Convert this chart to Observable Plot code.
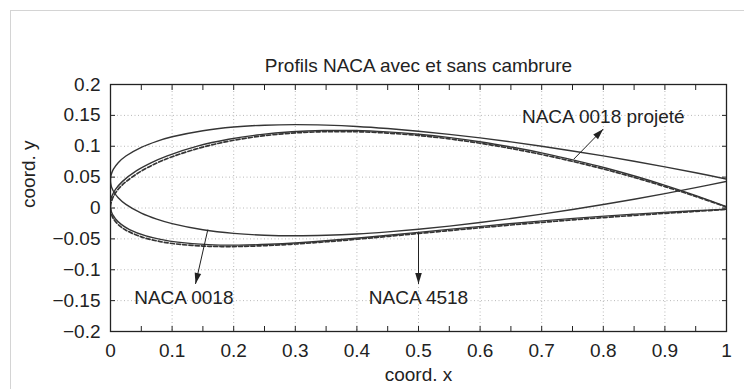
<!DOCTYPE html>
<html><head><meta charset="utf-8">
<script src="https://cdn.jsdelivr.net/npm/d3@7"></script>
<script src="https://cdn.jsdelivr.net/npm/@observablehq/plot@0.6"></script>
<style>
body{margin:0;background:#fff;}
#wrap{position:relative;width:744px;height:389px;overflow:hidden;background:#fff;}
#border{position:absolute;left:10px;top:10px;right:-2px;bottom:-2px;border-left:1px solid #d4d4d4;border-top:1px solid #d4d4d4;pointer-events:none;}
#wrap svg{position:absolute;left:0;top:0;}
</style></head><body>
<div id="wrap"><div id="border"></div></div>
<script>
// ---- text ----
const title = "Profils NACA avec et sans cambrure";
const xLabel = "coord. x";
const yLabel = "coord. y";

// ---- ticks ----
const xTicks = [0, 0.1, 0.2, 0.3, 0.4, 0.5, 0.6, 0.7, 0.8, 0.9, 1];
const xTickLabels = ["0", "0.1", "0.2", "0.3", "0.4", "0.5", "0.6", "0.7", "0.8", "0.9", "1"];
const xMinorTicks = [0.05, 0.1, 0.15, 0.2, 0.25, 0.3, 0.35, 0.4, 0.45, 0.5, 0.55, 0.6, 0.65, 0.7, 0.75, 0.8, 0.85, 0.9, 0.95];
const yTicks = [-0.2, -0.15, -0.1, -0.05, 0, 0.05, 0.1, 0.15, 0.2];
const yTickLabels = ["\u22120.2", "\u22120.15", "\u22120.1", "\u22120.05", "0", "0.05", "0.1", "0.15", "0.2"];
const yInnerTicks = [-0.15, -0.1, -0.05, 0, 0.05, 0.1, 0.15];
const xGrid = [0.1, 0.2, 0.3, 0.4, 0.5, 0.6, 0.7, 0.8, 0.9];
const yGrid = [-0.15, -0.1, -0.05, 0, 0.05, 0.1, 0.15];

// ---- NACA 0018 (symmetric, drawn around y = 0.045) ----
const naca0018X = [0, 0.0005, 0.001, 0.0025, 0.005, 0.0125, 0.025, 0.05, 0.075, 0.1, 0.15, 0.2, 0.25, 0.3, 0.35, 0.4, 0.45, 0.5, 0.55, 0.6, 0.65, 0.7, 0.75, 0.8, 0.85, 0.9, 0.95, 1];
const naca0018Upper = [0.045, 0.051, 0.0533, 0.0581, 0.0633, 0.0734, 0.0842, 0.0983, 0.108, 0.1153, 0.1252, 0.1311, 0.1341, 0.135, 0.1342, 0.1321, 0.1287, 0.1244, 0.1193, 0.1135, 0.107, 0.1, 0.0924, 0.0844, 0.0758, 0.0667, 0.0571, 0.0469];
const naca0018Lower = [0.045, 0.039, 0.0367, 0.0319, 0.0267, 0.0166, 0.0058, -0.0083, -0.018, -0.0253, -0.0352, -0.0411, -0.0441, -0.045, -0.0442, -0.0421, -0.0387, -0.0344, -0.0293, -0.0235, -0.017, -0.01, -0.0024, 0.0056, 0.0142, 0.0233, 0.0329, 0.0431];

// ---- NACA 4518 (solid) ----
const naca4518UpperX = [0, -0.0005, -0.0003, 0.0004, 0.0021, 0.0081, 0.0191, 0.0424, 0.0665, 0.0911, 0.1411, 0.1918, 0.2429, 0.2943, 0.3457, 0.3972, 0.4487, 0.5, 0.5512, 0.6022, 0.653, 0.7035, 0.7538, 0.8038, 0.8534, 0.9028, 0.9517, 1.0003];
const naca4518UpperY = [0, 0.006, 0.0084, 0.0133, 0.0189, 0.03, 0.0427, 0.0604, 0.0735, 0.0841, 0.1001, 0.1113, 0.1188, 0.1234, 0.1255, 0.1255, 0.1233, 0.1194, 0.1139, 0.1069, 0.0983, 0.0885, 0.0772, 0.0648, 0.051, 0.0359, 0.0196, 0.0019];
const naca4518LowerX = [0, 0.0015, 0.0023, 0.0046, 0.0079, 0.0169, 0.0309, 0.0576, 0.0835, 0.1089, 0.1589, 0.2082, 0.2571, 0.3058, 0.3543, 0.4028, 0.4513, 0.5, 0.5488, 0.5978, 0.647, 0.6965, 0.7462, 0.7962, 0.8466, 0.8972, 0.9483, 0.9997];
const naca4518LowerY = [0, -0.0058, -0.008, -0.0125, -0.0173, -0.0261, -0.0349, -0.0452, -0.0513, -0.0553, -0.0593, -0.0601, -0.0588, -0.0562, -0.0527, -0.0487, -0.0441, -0.0394, -0.0347, -0.0301, -0.0255, -0.0213, -0.0172, -0.0136, -0.0102, -0.0071, -0.0044, -0.0019];

// ---- NACA 0018 projeté (dashed) ----
const projX = [0, 0.0005, 0.001, 0.0025, 0.005, 0.0125, 0.025, 0.05, 0.075, 0.1, 0.15, 0.2, 0.25, 0.3, 0.35, 0.4, 0.45, 0.5, 0.55, 0.6, 0.65, 0.7, 0.75, 0.8, 0.85, 0.9, 0.95, 1];
const projUpper = [0, 0.0061, 0.0085, 0.0135, 0.0191, 0.0304, 0.0425, 0.0598, 0.0728, 0.083, 0.0986, 0.1097, 0.1171, 0.1216, 0.1236, 0.1235, 0.1213, 0.1174, 0.1119, 0.1049, 0.0964, 0.0866, 0.0755, 0.0632, 0.0496, 0.0347, 0.0188, 0.0015];
const projLower = [0, -0.0059, -0.0081, -0.0127, -0.0177, -0.0268, -0.0359, -0.0467, -0.0532, -0.0575, -0.0616, -0.0624, -0.061, -0.0583, -0.0547, -0.0506, -0.046, -0.0413, -0.0366, -0.032, -0.0275, -0.0233, -0.0192, -0.0155, -0.012, -0.0087, -0.0055, -0.0022];

// ---- annotations ----
const annLabels = ["NACA 0018", "NACA 4518", "NACA 0018 projet\u00e9"];
const annLabelX = [0.119, 0.5, 0.8];
const annLabelY = [-0.146, -0.146, 0.147];
const annFromX = [0.158, 0.5, 0.752];
const annFromY = [-0.035, -0.04, 0.079];
const annToX = [0.138, 0.5, 0.8];
const annToY = [-0.123, -0.123, 0.128];

// ---- build tables ----
function closed(xu, yu, xl, yl) {
  const pts = [];
  for (let i = xu.length - 1; i >= 0; i--) pts.push({x: xu[i], y: yu[i]});
  for (let i = 1; i < xl.length; i++) pts.push({x: xl[i], y: yl[i]});
  return pts;
}
const p0018 = closed(naca0018X, naca0018Upper, naca0018X, naca0018Lower);
const p4518 = closed(naca4518UpperX, naca4518UpperY, naca4518LowerX, naca4518LowerY);
const pProj = closed(projX, projUpper, projX, projLower);
const ann = annLabels.map((t, i) => ({t, lx: annLabelX[i], ly: annLabelY[i], fx: annFromX[i], fy: annFromY[i], tx: annToX[i], ty: annToY[i]}));

const ink = "#222";
const lineInk = "#353535";
const font = "'Liberation Sans', Arial, Helvetica, sans-serif";

const chart = Plot.plot({
  width: 744, height: 389,
  marginLeft: 110, marginRight: 18, marginTop: 84, marginBottom: 58,
  style: {fontFamily: font, fontSize: "19px", color: ink, background: "transparent", overflow: "visible"},
  x: {domain: [0, 1]},
  y: {domain: [-0.2, 0.2]},
  marks: [
    Plot.gridX(xGrid, {stroke: "#b8b8b8", strokeOpacity: 1, strokeDasharray: "1,2.5"}),
    Plot.gridY(yGrid, {stroke: "#b8b8b8", strokeOpacity: 1, strokeDasharray: "1,2.5"}),
    Plot.line(pProj, {x: "x", y: "y", curve: "catmull-rom", stroke: lineInk, strokeWidth: 1.7, strokeDasharray: "4,2.2", clip: true}),
    Plot.line(p4518, {x: "x", y: "y", curve: "catmull-rom", stroke: lineInk, strokeWidth: 1.4, clip: true}),
    Plot.line(p0018, {x: "x", y: "y", curve: "catmull-rom", stroke: lineInk, strokeWidth: 1.4, clip: true}),
    Plot.link(ann, {x1: "fx", y1: "fy", x2: "tx", y2: "ty", stroke: ink, strokeWidth: 1, markerEnd: "arrow"}),
    Plot.text(ann, {x: "lx", y: "ly", text: "t", fill: ink, fontSize: 19}),
    Plot.frame({stroke: ink, strokeWidth: 1.3}),
    Plot.axisX(xMinorTicks, {anchor: "bottom", tickSize: 5, dy: -5, fill: "none", stroke: ink, label: null}),
    Plot.axisX(xMinorTicks, {anchor: "top", tickSize: 5, dy: 5, fill: "none", stroke: ink, label: null}),
    Plot.axisY(yInnerTicks, {anchor: "left", tickSize: 5, dx: 5, fill: "none", stroke: ink, label: null}),
    Plot.axisY(yInnerTicks, {anchor: "right", tickSize: 5, dx: -5, fill: "none", stroke: ink, label: null}),
    Plot.axisX(xTicks, {anchor: "bottom", tickSize: 0, tickPadding: 12, tickFormat: d => xTickLabels[xTicks.indexOf(d)], label: null, fill: ink}),
    Plot.axisY(yTicks, {anchor: "left", tickSize: 0, tickPadding: 10, tickFormat: d => yTickLabels[yTicks.indexOf(d)], label: null, fill: ink}),
    Plot.text([title], {frameAnchor: "top", dy: -26, fill: ink, fontSize: 19}),
    Plot.text([xLabel], {frameAnchor: "bottom", dy: 49, fill: ink, fontSize: 19}),
    Plot.text([yLabel], {frameAnchor: "left", dx: -82, rotate: -90, fill: ink, fontSize: 19})
  ]
});

// filled arrowheads
d3.select(chart).selectAll("marker").each(function () {
  const m = d3.select(this);
  m.attr("viewBox", "-12 -5 13 10").attr("markerWidth", 13).attr("markerHeight", 10)
   .attr("fill", ink).attr("stroke", "none");
  m.selectAll("path").attr("d", "M-11,-3.3L0,0L-11,3.3Z");
});

document.getElementById("wrap").appendChild(chart);
</script>
</body></html>
